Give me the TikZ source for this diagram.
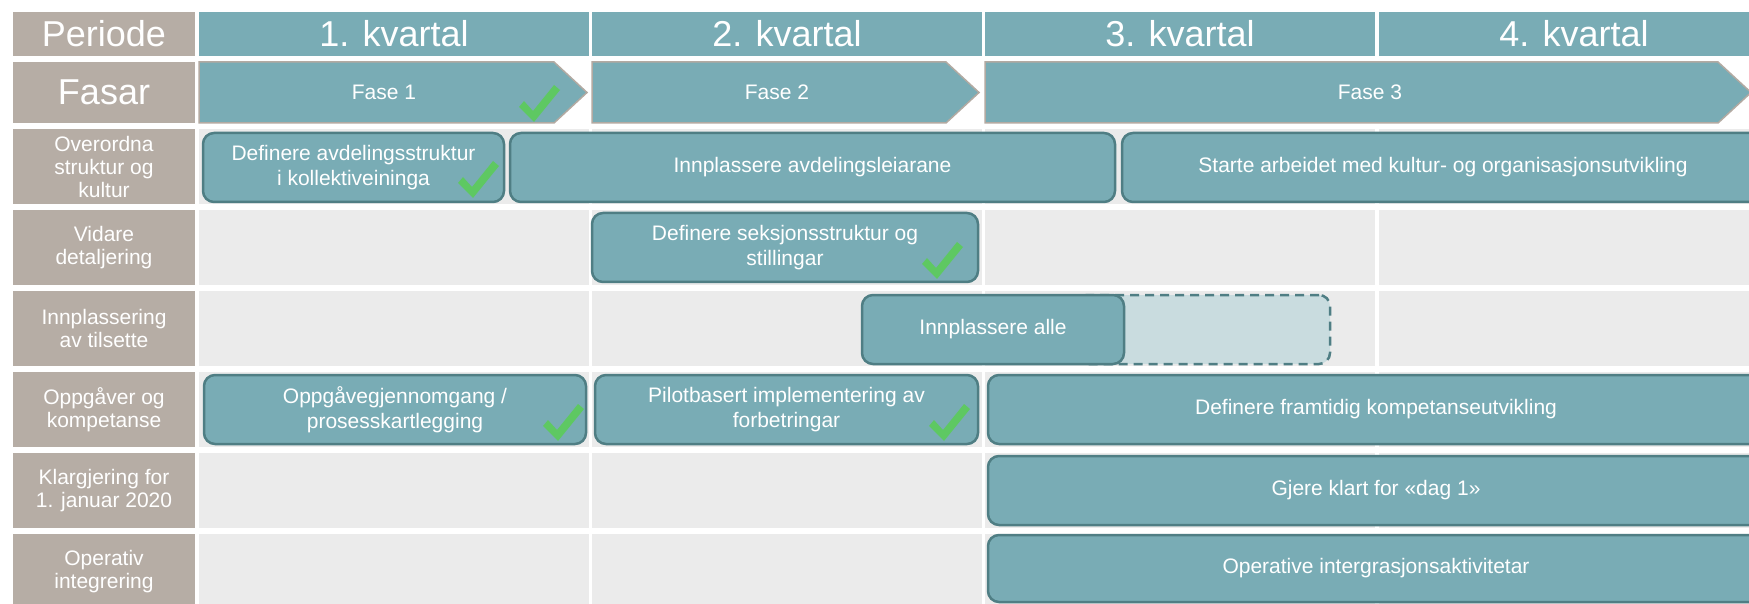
\documentclass[tikz,border=0pt]{standalone}
\usepackage{fontspec}
\setmainfont{Liberation Sans}
\definecolor{teal}{HTML}{79ACB5}
\definecolor{tealedge}{HTML}{4F7E84}
\definecolor{taupe}{HTML}{B6ADA5}
\definecolor{cellgray}{HTML}{EBEBEB}
\definecolor{plannedfill}{HTML}{C9DCDF}
\definecolor{tickgreen}{HTML}{5CCB5C}
\definecolor{arrowedge}{HTML}{B3AAA2}

% box from two corners: style, name, x1, y1, x2, y2, text
\newcommand{\placebox}[7]{%
  \pgfmathsetmacro{\bxc}{(#3+#5)/2}%
  \pgfmathsetmacro{\byc}{(#4+#6)/2}%
  \pgfmathsetmacro{\bxw}{#5-#3}%
  \pgfmathsetmacro{\byh}{#6-#4}%
  \node[#1, minimum width=\bxw pt, minimum height=\byh pt] (#2) at (\bxc,\byc) {#7};}

\begin{document}
\begin{tikzpicture}[x=1pt, y=-1pt,
  hdr/.style={fill=teal, text=white, inner sep=0pt, font=\fontsize{36}{40}\selectfont},
  lab/.style={fill=taupe, text=white, inner sep=0pt, align=center, font=\fontsize{21}{23}\selectfont},
  cell/.style={fill=cellgray, inner sep=0pt},
  task/.style={fill=teal, draw=tealedge, line width=2.5pt, rounded corners=11pt,
    text=white, inner sep=0pt, align=center, font=\fontsize{21}{24.5}\selectfont},
  planned/.style={fill=plannedfill, draw=tealedge, line width=2.5pt, rounded corners=11pt,
    dash pattern=on 9pt off 6pt, inner sep=0pt},
  phase/.style={fill=teal, draw=arrowedge, line width=1.5pt, line join=miter},
  phasetext/.style={text=white, inner sep=0pt, font=\fontsize{21}{24}\selectfont},
  tick/.pic={\fill[tickgreen, opacity=0.92] (0,22) -- (5,16) -- (14,26) -- (35,0) -- (41,5) -- (15,37) -- cycle;}
]
\useasboundingbox (0,0) rectangle (1749,604);
\clip (0,0) rectangle (1749,604);
\fill[white] (0,0) rectangle (1749,604);

% header row
\placebox{hdr, fill=taupe}{hP}{13}{12}{195}{56}{Periode}
\placebox{hdr}{hQ1}{199}{12}{589}{56}{1. kvartal}
\placebox{hdr}{hQ2}{592}{12}{982}{56}{2. kvartal}
\placebox{hdr}{hQ3}{985}{12}{1375}{56}{3. kvartal}
\placebox{hdr}{hQ4}{1379}{12}{1769}{56}{4. kvartal}

% phase row
\placebox{hdr, fill=taupe}{hF}{13}{62}{195}{123}{Fasar}
\draw[phase] (199,62) -- (554,62) -- (587,92.5) -- (554,123) -- (199,123) -- cycle;
\draw[phase] (592,62) -- (946,62) -- (979,92.5) -- (946,123) -- (592,123) -- cycle;
\draw[phase] (985,62) -- (1718,62) -- (1751,92.5) -- (1718,123) -- (985,123) -- cycle;
\node[phasetext] (f1) at (384,92.5) {Fase 1};
\node[phasetext] (f2) at (777,92.5) {Fase 2};
\node[phasetext] (f3) at (1370,92.5) {Fase 3};

% grid of background cells
\foreach \ya/\yb [count=\r] in {129/204, 210/285, 291/366, 372/447, 453/528, 534/609}{
  \foreach \xa/\xb [count=\c] in {199/589, 592/982, 985/1375, 1379/1769}{
    \placebox{cell}{c\r-\c}{\xa}{\ya}{\xb}{\yb}{}
  }
}

% row labels
\placebox{lab}{l1}{13}{129}{195}{204}{Overordna\\struktur og\\kultur}
\placebox{lab}{l2}{13}{210}{195}{285}{Vidare\\detaljering}
\placebox{lab}{l3}{13}{291}{195}{366}{Innplassering\\av tilsette}
\placebox{lab}{l4}{13}{372}{195}{447}{Oppgåver og\\kompetanse}
\placebox{lab}{l5}{13}{453}{195}{528}{Klargjering for\\1. januar 2020}
\placebox{lab}{l6}{13}{534}{195}{609}{Operativ\\integrering}

% activities
\placebox{task}{t1}{203}{133}{504}{202}{Definere avdelingsstruktur\\i kollektiveininga}
\placebox{task}{t2}{510}{133}{1115}{202}{Innplassere avdelingsleiarane}
\placebox{task}{t3}{1122}{133}{1764}{202}{Starte arbeidet med kultur- og organisasjonsutvikling}
\placebox{task}{t4}{592}{213}{978}{282}{Definere seksjonsstruktur og\\stillingar}
\placebox{planned}{t5b}{1076}{295}{1330}{364}{}
\placebox{task}{t5}{862}{295}{1124}{364}{Innplassere alle}
\placebox{task}{t6}{204}{375}{586}{444}{Oppgåvegjennomgang /\\prosesskartlegging}
\placebox{task}{t7}{595}{375}{978}{444}{Pilotbasert implementering av\\forbetringar}
\placebox{task}{t8}{988}{375}{1764}{444}{Definere framtidig kompetanseutvikling}
\placebox{task}{t9}{988}{456}{1764}{525}{Gjere klart for «dag 1»}
\placebox{task}{t10}{988}{535}{1764}{602}{Operative intergrasjonsaktivitetar}

% completion marks
\pic at (519,85) {tick};
\pic at (458,161) {tick};
\pic at (922,242) {tick};
\pic at (543,404) {tick};
\pic at (929,404) {tick};
\end{tikzpicture}
\end{document}
